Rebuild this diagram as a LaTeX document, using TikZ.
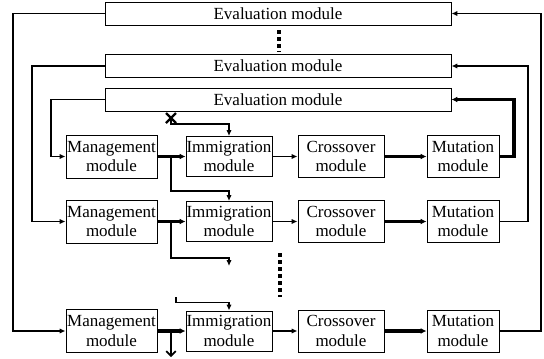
\documentclass[tikz,border=0pt]{standalone}
\usepackage{fontspec}
\setmainfont{Liberation Serif}
\usetikzlibrary{positioning,calc,arrows.meta}

\tikzset{
  module/.style={draw, line width=0.8pt, inner sep=0pt, align=center,
    font=\fontsize{14.5}{16.5}\selectfont},
  evalbox/.style={module, minimum width=10.38cm, minimum height=0.69cm},
  mgmtbox/.style={module, minimum width=2.73cm, minimum height=1.29cm},
  immbox/.style={module, minimum width=2.58cm, minimum height=1.2cm},
  crossbox/.style={module, minimum width=2.58cm, minimum height=1.26cm},
  mutbox/.style={module, minimum width=2.16cm, minimum height=1.26cm},
  conn/.style={line width=1.5pt, -{Latex[length=5pt,width=4.5pt]}},
  thickconn/.style={line width=2.6pt, -{Latex[length=5pt,width=5pt]}},
  openconn/.style={line width=1.5pt, -{Straight Barb[length=4pt,width=8pt]}},
  dots/.style={line width=3.4pt, dash pattern=on 3.4pt off 2.6pt}
}

\begin{document}
\begin{tikzpicture}[x=0.03cm, y=-0.03cm]
    \useasboundingbox (0,0) rectangle (544,358);

    % Evaluation modules
    \node [evalbox] (eval1) at (278,13.5) {Evaluation module};
    \node [evalbox] (eval2) at (278,66) {Evaluation module};
    \node [evalbox] (eval3) at (278,99.5) {Evaluation module};
    \draw [dots] (279,30) -- (279,52);

    % Rows of modules
    \foreach \r/\y in {1/156.5, 2/221.5, 3/331} {
        \node [mgmtbox] (mgmt\r) at (111.5,\y) {Management\\module};
        \node [immbox] (imm\r) at (229,\y) {Immigration\\module};
        \node [crossbox] (cross\r) at (341,\y) {Crossover\\module};
        \node [mutbox] (mut\r) at (463,\y) {Mutation\\module};
        \draw [thickconn] (mgmt\r) -- (imm\r);
        \draw [conn] (imm\r) -- (cross\r);
        \draw [thickconn] (cross\r) -- (mut\r);
    }
    \draw [dots] (280,253) -- (280,297);

    % Rails
    \coordinate (railA) at (13,0);
    \coordinate (railB) at (32,0);
    \coordinate (railC) at (51,0);
    \coordinate (railD) at (514,0);
    \coordinate (railE) at (528,0);
    \coordinate (railF) at (541,0);
    \coordinate (split) at (171,0);

    % Evaluation -> management
    \draw [conn] (eval1.west) -- (eval1.west -| railA) |- (mgmt3.west);
    \draw [conn] (eval2.west) -- (eval2.west -| railB) |- (mgmt2.west);
    \draw [conn] (eval3.west) -- (eval3.west -| railC) |- (mgmt1.west);

    % Mutation -> evaluation
    \draw [thickconn] (mut1.east) -- (mut1.east -| railD) |- (eval3.east);
    \draw [conn] (mut2.east) -- (mut2.east -| railE) |- (eval2.east);
    \draw [conn] (mut3.east) -- (mut3.east -| railF) |- (eval1.east);

    % Migration
    \coordinate (cut) at (171,118);
    \draw [line width=2pt] (cut) +(-5,-5) -- +(5,5) +(-5,5) -- +(5,-5);
    \draw [conn] (cut) |- ($(imm1.north)+(0,-12)$) -- (imm1.north);
    \draw [conn] (mgmt1.east -| split) |- ($(imm2.north)+(0,-10)$) -- (imm2.north);
    \coordinate (out2) at (229,266);
    \draw [conn] (mgmt2.east -| split) |- ($(out2)+(0,-8)$) -- (out2);
    \coordinate (in3) at (176,297);
    \draw [conn] (in3) |- ($(imm3.north)+(0,-8)$) -- (imm3.north);
    \coordinate (out3) at (171,357);
    \draw [openconn] (mgmt3.east -| split) -- (out3);
\end{tikzpicture}
\end{document}
